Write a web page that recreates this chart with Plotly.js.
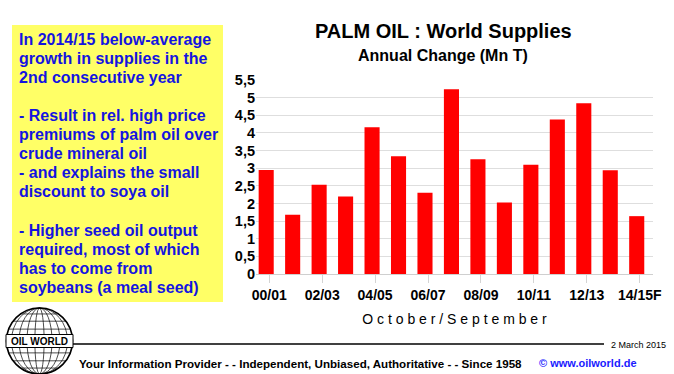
<!DOCTYPE html>
<html>
<head>
<meta charset="utf-8">
<script src="https://cdn.plot.ly/plotly-3.0.1.min.js"></script>
<style>html,body{margin:0;padding:0;background:#fff;}#chart{width:674px;height:374px;}</style>
</head>
<body>
<div id="chart"></div>
<script>
// ---- data ----
const seasons = ["00/01","01/02","02/03","03/04","04/05","05/06","06/07","07/08","08/09","09/10","10/11","11/12","12/13","13/14","14/15F"];
const annualChange = [2.95, 1.68, 2.53, 2.20, 4.16, 3.34, 2.30, 5.24, 3.25, 2.03, 3.10, 4.38, 4.84, 2.94, 1.64];
const xTickVals = ["00/01","02/03","04/05","06/07","08/09","10/11","12/13","14/15F"];
const yTickVals = [0, 0.5, 1, 1.5, 2, 2.5, 3, 3.5, 4, 4.5, 5, 5.5];
const yTickText = ["0","0,5","1","1,5","2","2,5","3","3,5","4","4,5","5","5,5"];
const titleText = "PALM OIL : World Supplies";
const subtitleText = "Annual Change (Mn T)";
const xTitleText = "O c t o b e r / S e p t e m b e r";
const noteLines = [
  "In 2014/15 below-average",
  "growth in supplies in the",
  "2nd consecutive year",
  "",
  "- Result in rel. high price",
  "premiums of palm oil over",
  "crude mineral oil",
  "- and explains the small",
  "discount to soya oil",
  "",
  "- Higher seed oil output",
  "required, most of which",
  "has to come from",
  "soybeans (a meal seed)"
];
const footerText = "Your Information Provider - - Independent, Unbiased, Authoritative - - Since 1958";
const footerUrl = "© www.oilworld.de";
const dateText = "2 March 2015";
const logoText = "OIL WORLD";

// ---- layout helpers (pixel -> paper) ----
const W = 674, H = 374;
const M = {l: 256, r: 21, t: 80, b: 100};
const PW = W - M.l - M.r, PH = H - M.t - M.b;
const px = x => (x - M.l) / PW;
const py = y => (H - M.b - y) / PH;

const FONT = "Liberation Sans, Arial, sans-serif";
const BLUE = "#1414e0";

const annotations = [];
const shapes = [];

// titles
annotations.push({xref:"paper", yref:"paper", x:px(443), y:py(31), xanchor:"center", yanchor:"middle",
  text:"<b>"+titleText+"</b>", showarrow:false, font:{family:FONT, size:20, color:"#000"}});
annotations.push({xref:"paper", yref:"paper", x:px(443), y:py(55), xanchor:"center", yanchor:"middle",
  text:"<b>"+subtitleText+"</b>", showarrow:false, font:{family:FONT, size:16, color:"#000"}});

// yellow note box
shapes.push({type:"rect", xref:"paper", yref:"paper", x0:px(12), x1:px(223), y0:py(25), y1:py(302),
  fillcolor:"#ffff66", line:{width:0}, layer:"below"});
noteLines.forEach((ln, i) => {
  if (!ln) return;
  annotations.push({xref:"paper", yref:"paper", x:px(17), y:py(39 + 19.1*i), xanchor:"left", yanchor:"middle",
    text:"<b>"+ln+"</b>", showarrow:false, font:{family:FONT, size:16, color:BLUE}});
});

// footer
shapes.push({type:"line", xref:"paper", yref:"paper", x0:px(70), x1:px(604), y0:py(344), y1:py(344),
  line:{color:"#000", width:1.5}});
annotations.push({xref:"paper", yref:"paper", x:px(609), y:py(344.5), xanchor:"left", yanchor:"middle",
  text:dateText, showarrow:false, font:{family:FONT, size:9, color:"#000"}});
annotations.push({xref:"paper", yref:"paper", x:px(77), y:py(363), xanchor:"left", yanchor:"middle",
  text:"<b>"+footerText+"</b>", showarrow:false, font:{family:FONT, size:11.6, color:"#000"}});
annotations.push({xref:"paper", yref:"paper", x:px(537), y:py(363), xanchor:"left", yanchor:"middle",
  text:"<b>"+footerUrl+"</b>", showarrow:false, font:{family:FONT, size:11, color:"#1a1aff"}});

// logo (globe)
const cx = 39.5, cy = 341, r = 33;
shapes.push({type:"circle", xref:"paper", yref:"paper", x0:px(cx-r), x1:px(cx+r), y0:py(cy-r), y1:py(cy+r),
  line:{color:"#000", width:1.6}, fillcolor:"#fff"});
[0.85, 0.62, 0.38, 0.14].forEach(f => {
  shapes.push({type:"circle", xref:"paper", yref:"paper", x0:px(cx-r*f), x1:px(cx+r*f), y0:py(cy-r), y1:py(cy+r),
    line:{color:"#000", width:0.7}});
});
[-0.82, -0.6, -0.36, 0.36, 0.6, 0.82].forEach(f => {
  const yy = cy + r*f, hw = r*Math.sqrt(1-f*f);
  shapes.push({type:"line", xref:"paper", yref:"paper", x0:px(cx-hw), x1:px(cx+hw), y0:py(yy), y1:py(yy), line:{color:"#000", width:0.7}});
});
shapes.push({type:"rect", xref:"paper", yref:"paper", x0:px(6), x1:px(73), y0:py(334.5), y1:py(347.5),
  fillcolor:"#fff", line:{color:"#000", width:1}});
annotations.push({xref:"paper", yref:"paper", x:px(39.5), y:py(341.5), xanchor:"center", yanchor:"middle",
  text:"<b>"+logoText+"</b>", showarrow:false, font:{family:FONT, size:10, color:"#000"}});

const trace = {
  type:"bar", x:seasons, y:annualChange,
  marker:{color:"#ff0000", line:{width:0}},
  width:0.57, offset:-0.40,
  hoverinfo:"x+y"
};

const layout = {
  width:W, height:H,
  margin:M,
  paper_bgcolor:"#fff", plot_bgcolor:"#fff",
  showlegend:false,
  font:{family:FONT},
  xaxis:{
    type:"category", range:[-0.5, 14.5],
    tickmode:"array", tickvals:xTickVals, ticktext:xTickVals,
    tickfont:{family:FONT, size:14, color:"#000", weight:"bold"},
    ticks:"outside", ticklen:8, tickcolor:"#d4d4d4", tickwidth:1,
    showline:true, linecolor:"#cfcfcf", linewidth:1,
    showgrid:false,
    title:{text:xTitleText, font:{family:FONT, size:14, color:"#000"}, standoff:12}
  },
  yaxis:{
    range:[0, 5.5],
    tickmode:"array", tickvals:yTickVals, ticktext:yTickText,
    tickfont:{family:FONT, size:14.5, color:"#000", weight:"bold"},
    showgrid:true, gridcolor:"#dedede", gridwidth:1,
    zeroline:false, showline:false, ticks:"", ticklen:0
  },
  annotations:annotations,
  shapes:shapes
};

Plotly.newPlot("chart", [trace], layout, {staticPlot:true, displayModeBar:false});
</script>
</body>
</html>
